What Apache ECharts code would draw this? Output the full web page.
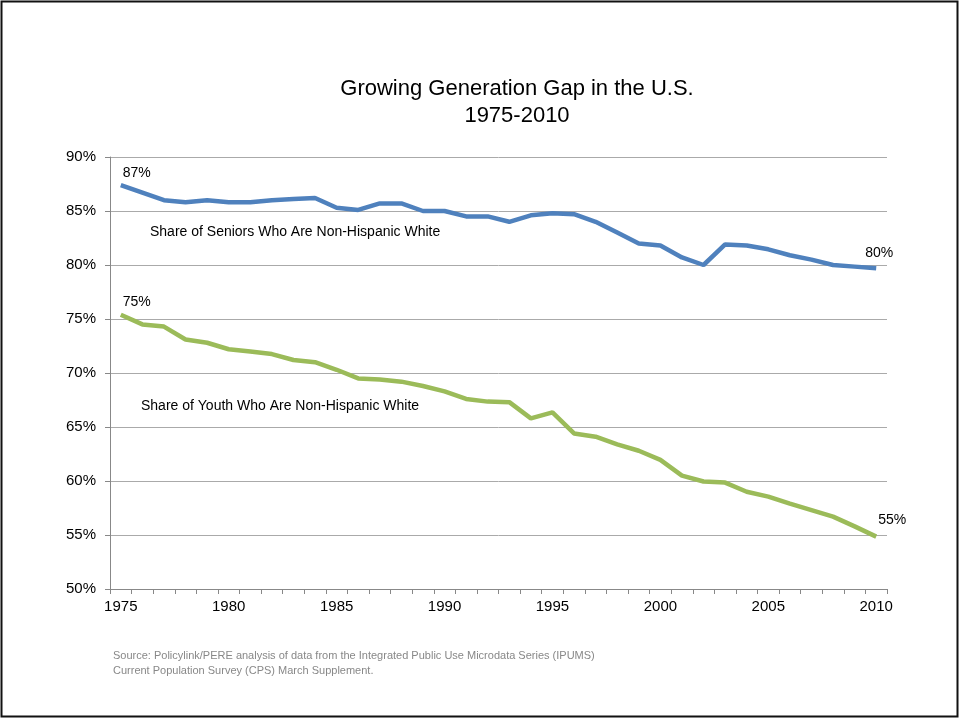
<!DOCTYPE html>
<html>
<head>
<meta charset="utf-8">
<script src="https://cdn.jsdelivr.net/npm/echarts@6/dist/echarts.min.js"></script>
<style>
  html, body { margin: 0; padding: 0; background: #fff; }
  #chart { width: 959px; height: 719px; }
</style>
</head>
<body>
<div id="chart"></div>
<script>
var years = []
for (var y = 1975; y <= 2010; y++) years.push(String(y))

// share of seniors (65+) who are non-Hispanic white, %
var seniors = [87.4, 86.7, 86.0, 85.8, 86.0, 85.8, 85.8, 86.0, 86.1, 86.2,
  85.3, 85.1, 85.7, 85.7, 85.0, 85.0, 84.5, 84.5, 84.0, 84.6,
  84.8, 84.7, 84.0, 83.0, 82.0, 81.8, 80.7, 80.0, 81.9, 81.8,
  81.45, 80.9, 80.5, 80.0, 79.85, 79.7]

// share of youth who are non-Hispanic white, %
var youth = [75.4, 74.5, 74.3, 73.1, 72.8, 72.2, 72.0, 71.75, 71.2, 71.0,
  70.3, 69.5, 69.4, 69.2, 68.8, 68.3, 67.6, 67.35, 67.3, 65.8,
  66.35, 64.4, 64.1, 63.4, 62.8, 61.95, 60.5, 59.95, 59.85, 59.0,
  58.55, 57.9, 57.3, 56.7, 55.8, 54.85]

var yTicks = [50, 55, 60, 65, 70, 75, 80, 85, 90]

var narrow = "'Liberation Sans Narrow', 'Arial Narrow', sans-serif"

// only the first and last points carry a value label
function withEndLabels(vals, firstPos, lastPos) {
  return vals.map(function (v, i) {
    if (i === 0 || i === vals.length - 1) {
      return {
        value: v,
        label: {
          show: true,
          position: i === 0 ? firstPos : lastPos,
          formatter: Math.round(v) + '%'
        }
      }
    }
    return v
  })
}

var endLabel = {
  color: '#000',
  fontFamily: 'Arial, sans-serif',
  fontSize: 14,
  align: 'left',
  verticalAlign: 'middle'
}

var chart = echarts.init(document.getElementById('chart'))
chart.setOption({
  animation: false,
  title: {
    text: 'Growing Generation Gap in the U.S.\n1975-2010',
    left: 512,
    textAlign: 'center',
    top: 70,
    textStyle: {
      fontFamily: narrow,
      fontSize: 22,
      fontWeight: 'normal',
      color: '#000',
      lineHeight: 27
    }
  },
  grid: {
    left: 110,
    right: 72,
    top: 157,
    bottom: 130
  },
  xAxis: {
    type: 'category',
    data: years,
    boundaryGap: true,
    axisLine: { lineStyle: { color: '#888', width: 1 } },
    axisTick: { show: true, interval: 0, length: 5, lineStyle: { color: '#888' } },
    axisLabel: {
      interval: 4,
      color: '#000',
      fontFamily: narrow,
      fontSize: 15,
      margin: 10
    },
    splitLine: { show: false }
  },
  yAxis: {
    type: 'value',
    min: yTicks[0],
    max: yTicks[yTicks.length - 1],
    interval: 5,
    axisLine: { show: true, lineStyle: { color: '#888', width: 1 } },
    axisTick: { show: true, length: 5, lineStyle: { color: '#888' } },
    axisLabel: {
      formatter: '{value}%',
      color: '#000',
      fontFamily: narrow,
      fontSize: 15,
      margin: 14
    },
    splitLine: { lineStyle: { color: '#aaa', width: 1 } }
  },
  series: [
    {
      name: 'Seniors',
      type: 'line',
      data: withEndLabels(seniors, [2, -12], [-11, -15]),
      symbol: 'circle',
      symbolSize: 0,
      showAllSymbol: true,
      itemStyle: { color: '#4f81bd' },
      lineStyle: { color: '#4f81bd', width: 4.5 },
      label: endLabel
    },
    {
      name: 'Youth',
      type: 'line',
      data: withEndLabels(youth, [2, -13], [2, -16]),
      symbol: 'circle',
      symbolSize: 0,
      showAllSymbol: true,
      itemStyle: { color: '#9bbb59' },
      lineStyle: { color: '#9bbb59', width: 4.5 },
      label: endLabel
    }
  ],
  graphic: [
    {
      type: 'rect',
      shape: { x: 1.5, y: 1.5, width: 956, height: 715 },
      style: { fill: 'none', stroke: '#111', lineWidth: 2 },
      silent: true
    },
    {
      type: 'text',
      left: 150, top: 225,
      style: { text: 'Share of Seniors Who Are Non-Hispanic White', fontFamily: 'Arial, sans-serif', fontSize: 14, fill: '#000' }
    },
    {
      type: 'text',
      left: 141, top: 399,
      style: { text: 'Share of Youth Who Are Non-Hispanic White', fontFamily: 'Arial, sans-serif', fontSize: 14, fill: '#000' }
    },
    {
      type: 'text',
      left: 113, top: 648,
      style: {
        text: 'Source: Policylink/PERE analysis of data from the Integrated Public Use Microdata Series (IPUMS)\nCurrent Population Survey (CPS) March Supplement.',
        fontFamily: narrow,
        fontSize: 11,
        lineHeight: 15,
        fill: '#888'
      }
    }
  ]
})
</script>
</body>
</html>
